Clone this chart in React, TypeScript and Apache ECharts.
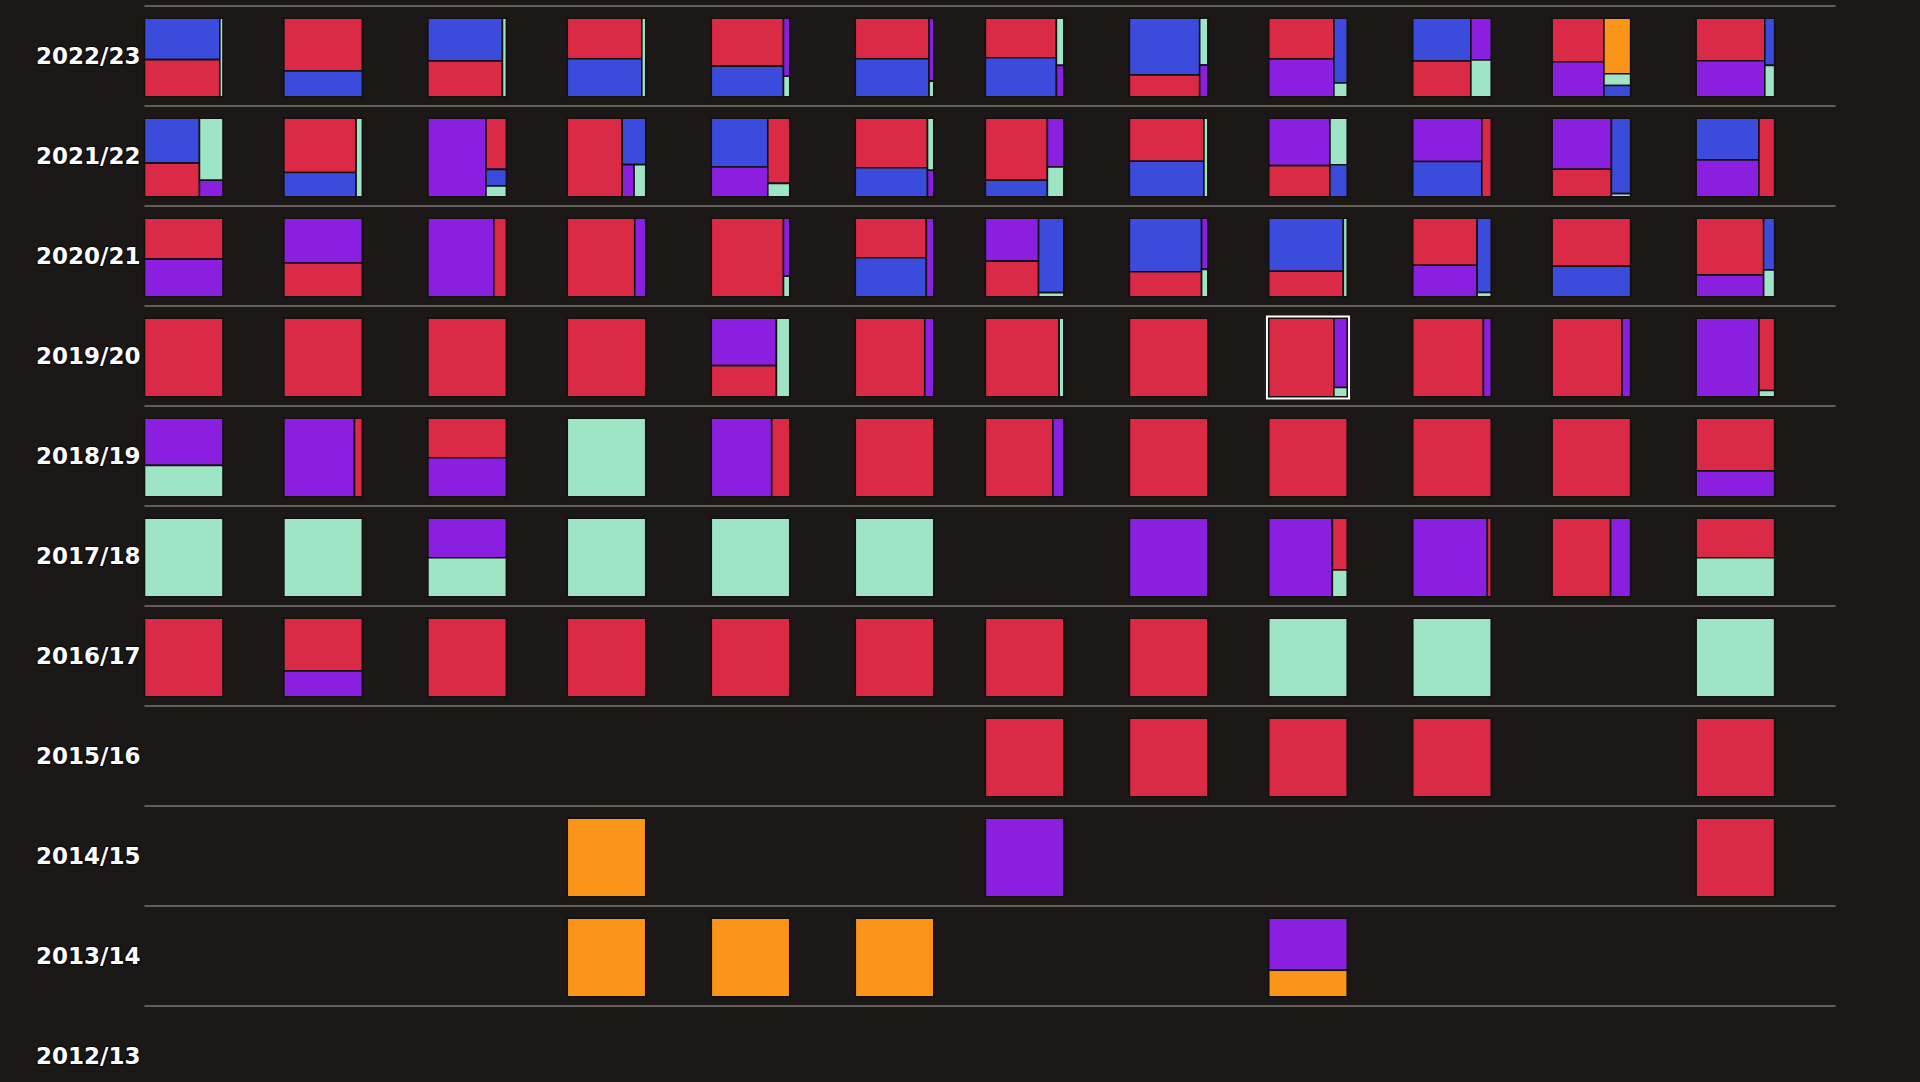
import React, { useEffect, useRef } from "react";
import * as echarts from "echarts";

// ---------- data ----------
const seasons = [
  "2022/23", "2021/22", "2020/21", "2019/20", "2018/19", "2017/18",
  "2016/17", "2015/16", "2014/15", "2013/14", "2012/13",
];

// month columns (Sep .. Aug), placed on a time axis
const monthStarts = [
  "2022-09-01", "2022-10-01", "2022-11-01", "2022-12-01", "2023-01-01", "2023-02-01",
  "2023-03-01", "2023-04-01", "2023-05-01", "2023-06-01", "2023-07-01", "2023-08-01",
];
const axisStart = "2022-09-01";
const axisEnd = "2023-08-31";

// group colours: R red, B blue, P purple, M mint, O orange
const palette: Record<string, string> = {
  R: "#DA2A45",
  B: "#3B4CDD",
  P: "#8B1FE0",
  M: "#9DE5C5",
  O: "#FA951A",
};

type Mix = Record<string, number> | null;

const mix2022_23: Mix[] = [
  { B: 50, R: 45, M: 4 },
  { R: 67, B: 33 },
  { B: 51.5, R: 43.5, M: 5 },
  { R: 49, B: 46, M: 5 },
  { R: 56, B: 36, P: 5.9, M: 2.1 },
  { R: 48.4, B: 45.6, P: 4.8, M: 1.2 },
  { R: 45.5, B: 45, M: 5.7, P: 3.8 },
  { B: 64.5, R: 25, M: 6.2, P: 4.2 },
  { R: 43, P: 40, B: 14, M: 3 },
  { B: 40.3, R: 33.7, P: 13.8, M: 12.2 },
  { R: 36.5, P: 29.5, O: 24, M: 5.1, B: 4.9 },
  { R: 47.3, P: 40.2, B: 7.5, M: 5 },
];
const mix2021_22: Mix[] = [
  { B: 40, R: 30, M: 23.7, P: 6.3 },
  { R: 63.5, B: 28.5, M: 8 },
  { P: 74, R: 16.9, B: 5.5, M: 3.6 },
  { R: 70, B: 17.7, P: 6.2, M: 6.1 },
  { B: 44.6, P: 27.4, R: 23.2, M: 4.8 },
  { R: 58, B: 34, M: 5.3, P: 2.7 },
  { R: 62.4, B: 16.6, P: 13, M: 8 },
  { R: 52, B: 43, M: 5 },
  { P: 47, R: 31, M: 13, B: 9 },
  { P: 48.4, B: 39.6, R: 12 },
  { P: 49, R: 26.5, B: 23.5, M: 1 },
  { B: 42.5, P: 37.5, R: 20 },
];
const mix2020_21: Mix[] = [
  { R: 52, P: 48 },
  { P: 57, R: 43 },
  { P: 84, R: 16 },
  { R: 86, P: 14 },
  { R: 92, P: 5.9, M: 2.1 },
  { R: 45.5, B: 45, P: 9.5 },
  { P: 37, R: 30.8, B: 30.5, M: 1.7 },
  { B: 62.6, R: 29.4, P: 5.2, M: 2.8 },
  { B: 64, R: 31, M: 5 },
  { R: 49, P: 33, B: 17, M: 1 },
  { R: 61, B: 39 },
  { R: 62, P: 24, B: 9.2, M: 4.8 },
];
const mix2019_20: Mix[] = [
  { R: 100 },
  { R: 100 },
  { R: 100 },
  { R: 100 },
  { P: 50, R: 33, M: 17 },
  { R: 88.5, P: 11.5 },
  { R: 94, M: 6 },
  { R: 100 },
  { R: 83, P: 15, M: 2 },
  { R: 90, P: 10 },
  { R: 89, P: 11 },
  { P: 80, R: 18.4, M: 1.6 },
];
const mix2018_19: Mix[] = [
  { P: 60, M: 40 },
  { P: 90, R: 10 },
  { R: 50.2, P: 49.8 },
  { M: 100 },
  { P: 77, R: 23 },
  { R: 100 },
  { R: 86, P: 14 },
  { R: 100 },
  { R: 100 },
  { R: 100 },
  { R: 100 },
  { R: 67, P: 33 },
];
const mix2017_18: Mix[] = [
  { M: 100 },
  { M: 100 },
  { P: 50.2, M: 49.8 },
  { M: 100 },
  { M: 100 },
  { M: 100 },
  null,
  { P: 100 },
  { P: 81, R: 12.5, M: 6.5 },
  { P: 95, R: 5 },
  { R: 74.5, P: 25.5 },
  { R: 50.2, M: 49.8 },
];
const mix2016_17: Mix[] = [
  { R: 100 },
  { R: 67, P: 33 },
  { R: 100 },
  { R: 100 },
  { R: 100 },
  { R: 100 },
  { R: 100 },
  { R: 100 },
  { M: 100 },
  { M: 100 },
  null,
  { M: 100 },
];
const mix2015_16: Mix[] = [
  null, null, null, null, null, null,
  { R: 100 }, { R: 100 }, { R: 100 }, { R: 100 }, null, { R: 100 },
];
const mix2014_15: Mix[] = [
  null, null, null, { O: 100 }, null, null,
  { P: 100 }, null, null, null, null, { R: 100 },
];
const mix2013_14: Mix[] = [
  null, null, null, { O: 100 }, { O: 100 }, { O: 100 },
  null, null, { P: 66, O: 34 }, null, null, null,
];
const mix2012_13: Mix[] = [
  null, null, null, null, null, null, null, null, null, null, null, null,
];

const seasonMixes: Mix[][] = [
  mix2022_23, mix2021_22, mix2020_21, mix2019_20, mix2018_19, mix2017_18,
  mix2016_17, mix2015_16, mix2014_15, mix2013_14, mix2012_13,
];

// hovered / highlighted cell
const highlightSeason = "2019/20";
const highlightMonth = 8;

// ---------- squarified treemap layout (golden ratio) ----------
const PHI = (1 + Math.sqrt(5)) / 2;
type Tile = { key: string; x0: number; y0: number; x1: number; y1: number };

function squarify(mix: Record<string, number>, X0: number, Y0: number, X1: number, Y1: number): Tile[] {
  const nodes = Object.keys(mix)
    .map((k) => ({ key: k, value: mix[k] }))
    .sort((a, b) => b.value - a.value);
  const out: Tile[] = [];
  let x0 = X0, y0 = Y0;
  const x1 = X1, y1 = Y1;
  let value = nodes.reduce((s, n) => s + n.value, 0);
  let i0 = 0, i1 = 0;
  const n = nodes.length;
  while (i0 < n) {
    const dx = x1 - x0, dy = y1 - y0;
    let sumValue = nodes[i1++].value;
    let minValue = sumValue, maxValue = sumValue;
    const alpha = Math.max(dy / dx, dx / dy) / (value * PHI);
    let beta = sumValue * sumValue * alpha;
    let minRatio = Math.max(maxValue / beta, beta / minValue);
    for (; i1 < n; ++i1) {
      const nv = nodes[i1].value;
      sumValue += nv;
      if (nv < minValue) minValue = nv;
      if (nv > maxValue) maxValue = nv;
      beta = sumValue * sumValue * alpha;
      const newRatio = Math.max(maxValue / beta, beta / minValue);
      if (newRatio > minRatio) {
        sumValue -= nv;
        break;
      }
      minRatio = newRatio;
    }
    const row = nodes.slice(i0, i1);
    if (dx < dy) {
      const yy = value ? y0 + (dy * sumValue) / value : y1;
      let x = x0;
      const k = sumValue ? (x1 - x0) / sumValue : 0;
      row.forEach((nd) => {
        const nx = x + nd.value * k;
        out.push({ key: nd.key, x0: x, x1: nx, y0, y1: yy });
        x = nx;
      });
      y0 = yy;
    } else {
      const xx = value ? x0 + (dx * sumValue) / value : x1;
      let y = y0;
      const k = sumValue ? (y1 - y0) / sumValue : 0;
      row.forEach((nd) => {
        const ny = y + nd.value * k;
        out.push({ key: nd.key, x0, x1: xx, y0: y, y1: ny });
        y = ny;
      });
      x0 = xx;
    }
    value -= sumValue;
    i0 = i1;
  }
  return out;
}

// ---------- component ----------
const BG = "#1c1817";
const CELL = 78.5;

export default function App() {
  const ref = useRef<HTMLDivElement>(null);

  useEffect(() => {
    document.body.style.margin = "0";
    document.body.style.overflow = "hidden";
    document.body.style.background = BG;
    if (!ref.current) return;
    const chart = echarts.init(ref.current, undefined, { renderer: "svg" });

    const items: { mix: Record<string, number>; highlight: boolean }[] = [];
    const data: [string, string][] = [];
    seasons.forEach((s, si) => {
      seasonMixes[si].forEach((mix, mi) => {
        if (!mix) return;
        items.push({ mix, highlight: s === highlightSeason && mi === highlightMonth });
        data.push([monthStarts[mi], s]);
      });
    });

    chart.setOption({
      animation: false,
      backgroundColor: BG,
      grid: { left: 144.5, top: 5.7, width: 1691, height: 1100, containLabel: false },
      xAxis: {
        type: "time",
        min: axisStart,
        max: axisEnd,
        show: false,
        splitLine: { show: false },
      },
      yAxis: {
        type: "category",
        data: seasons,
        inverse: true,
        axisLine: { show: false },
        axisTick: { show: false },
        splitLine: { show: true, interval: 0, lineStyle: { color: "#615d5b", width: 2 } },
        axisLabel: {
          interval: 0,
          margin: 4,
          color: "#ffffff",
          fontFamily: "DejaVu Sans",
          fontWeight: "bold",
          fontSize: 23,
          textBorderColor: "#0c0a0a",
          textBorderWidth: 2.5,
        },
      },
      series: [
        {
          type: "custom",
          encode: { x: 0, y: 1 },
          data,
          renderItem: (params: any, api: any) => {
            const it = items[params.dataIndex];
            const pt = api.coord([api.value(0), api.value(1)]);
            const x0 = pt[0];
            const y0 = pt[1] - 37.4;
            const tiles = squarify(it.mix, x0, y0, x0 + CELL, y0 + CELL);
            const children: any[] = tiles.map((t) => ({
              type: "rect",
              shape: { x: t.x0, y: t.y0, width: t.x1 - t.x0, height: t.y1 - t.y0 },
              style: { fill: palette[t.key], stroke: "#141110", lineWidth: 1.6 },
            }));
            if (it.highlight) {
              children.push({
                type: "rect",
                shape: { x: x0 - 1.8, y: y0 - 1.8, width: CELL + 3.6, height: CELL + 3.6 },
                style: { fill: "none", stroke: "#ffffff", lineWidth: 2 },
              });
            }
            return { type: "group", children };
          },
        },
      ],
    });

    return () => chart.dispose();
  }, []);

  return (
    <div
      ref={ref}
      style={{ position: "fixed", left: 0, top: 0, width: 1920, height: 1120, background: BG }}
    />
  );
}
